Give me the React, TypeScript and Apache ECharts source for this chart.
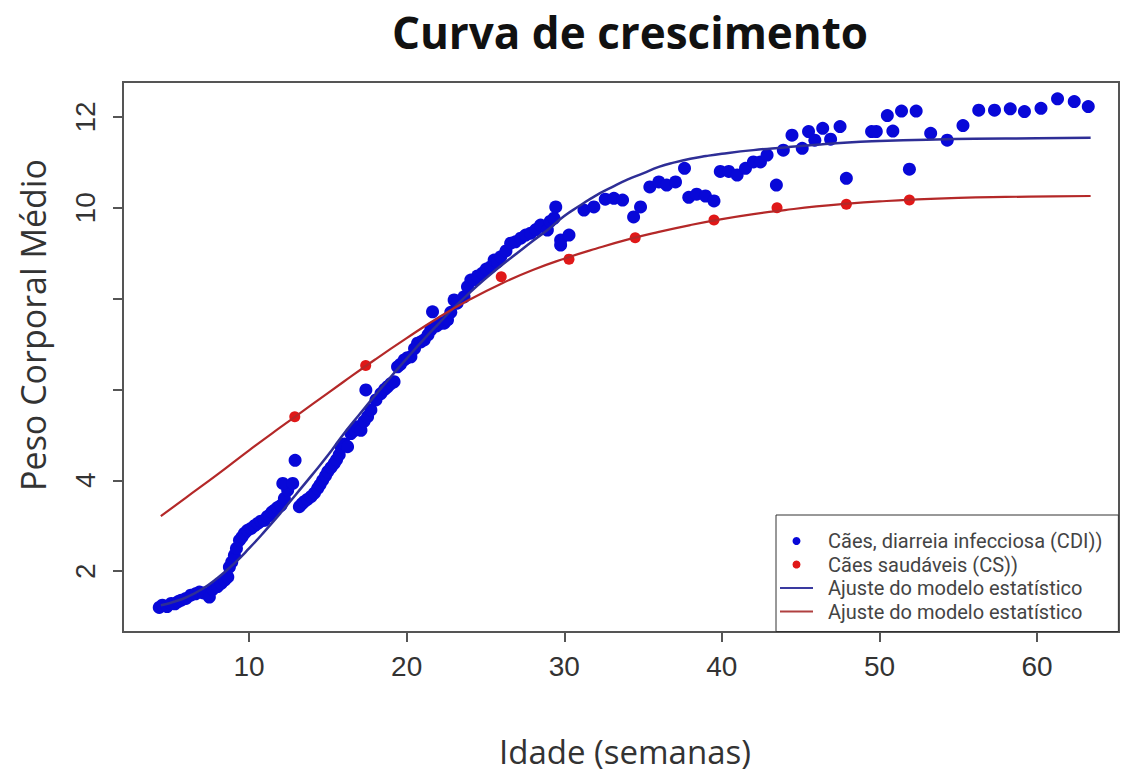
import React, { useEffect, useRef } from "react";
import * as echarts from "echarts";

// Blue scatter: Cães, diarreia infecciosa (CDI) — [idade (semanas), peso médio]
const cdiPoints: number[][] = [
  [4.3, 1.2], [4.5, 1.25], [4.8, 1.22], [5.06, 1.29], [5.3, 1.28], [5.5, 1.33], [5.7, 1.36], [6.0, 1.4],
  [6.3, 1.47], [6.6, 1.5], [6.85, 1.54], [7.1, 1.52], [7.48, 1.43], [7.7, 1.6], [8.0, 1.66], [8.23, 1.73],
  [8.45, 1.8], [8.65, 1.87], [8.75, 2.09], [8.9, 2.2], [9.07, 2.35], [9.2, 2.5], [9.39, 2.68], [9.55, 2.75],
  [9.7, 2.83], [9.9, 2.9], [10.13, 2.94], [10.35, 3.0], [10.55, 3.05], [10.75, 3.1], [10.97, 3.12], [11.15, 3.2],
  [11.29, 3.23], [11.45, 3.3], [11.6, 3.34], [11.8, 3.4], [12.03, 3.45], [12.24, 3.6], [12.45, 3.78], [12.14, 3.93],
  [12.77, 3.93], [12.92, 4.44], [13.19, 3.42], [13.35, 3.48], [13.5, 3.53], [13.7, 3.58], [13.93, 3.64], [14.15, 3.72],
  [14.35, 3.82], [14.5, 3.9], [14.67, 4.0], [14.85, 4.1], [14.99, 4.19], [15.2, 4.28], [15.4, 4.37], [15.55, 4.45],
  [15.72, 4.56], [15.83, 4.74], [16.05, 4.8], [16.25, 4.74], [16.46, 5.03], [16.7, 5.1], [16.89, 5.18], [17.1, 5.1],
  [17.3, 5.3], [17.52, 5.4], [17.73, 5.55], [17.41, 5.99], [18.05, 5.77], [18.37, 5.91], [18.6, 6.0], [18.79, 6.06],
  [19.0, 6.13], [19.2, 6.17], [19.42, 6.5], [19.6, 6.55], [19.84, 6.65], [20.05, 6.7], [20.27, 6.72], [20.5, 6.9],
  [20.69, 7.02], [20.9, 7.05], [21.11, 7.09], [21.35, 7.2], [21.53, 7.31], [21.64, 7.71], [21.9, 7.4], [22.17, 7.46],
  [22.38, 7.46], [22.59, 7.53], [22.8, 7.7], [23.01, 7.97], [23.2, 7.9], [23.64, 8.04], [23.86, 8.26], [24.07, 8.41],
  [24.28, 8.41], [24.5, 8.5], [24.81, 8.56], [25.05, 8.65], [25.34, 8.7], [25.55, 8.85], [25.76, 8.81], [25.97, 8.92],
  [26.3, 9.05], [26.6, 9.22], [26.9, 9.25], [27.24, 9.33], [27.55, 9.4], [27.87, 9.44], [28.2, 9.52], [28.5, 9.62],
  [28.93, 9.51], [29.1, 9.7], [29.35, 9.77], [29.46, 10.02], [29.77, 9.29], [29.77, 9.18], [30.3, 9.4], [31.25, 9.95],
  [31.88, 10.02], [32.6, 10.19], [33.15, 10.21], [33.7, 10.17], [34.4, 9.8], [34.84, 10.02], [35.43, 10.46], [36.0, 10.57],
  [36.5, 10.5], [37.06, 10.57], [37.63, 10.87], [37.9, 10.23], [38.4, 10.3], [38.96, 10.26], [39.5, 10.15], [39.9, 10.8],
  [40.44, 10.8], [40.97, 10.72], [41.5, 10.87], [42.0, 11.01], [42.45, 11.01], [42.87, 11.16], [43.46, 10.5], [43.9, 11.27],
  [44.45, 11.6], [45.1, 11.31], [45.5, 11.68], [45.9, 11.49], [46.4, 11.75], [46.9, 11.51], [47.5, 11.79], [47.9, 10.65],
  [49.5, 11.68], [49.8, 11.68], [50.5, 12.03], [50.85, 11.69], [51.4, 12.13], [52.33, 12.13], [51.9, 10.85], [53.25, 11.64],
  [54.3, 11.49], [55.3, 11.81], [56.3, 12.15], [57.3, 12.15], [58.3, 12.18], [59.2, 12.12], [60.25, 12.19], [61.3, 12.4],
  [62.36, 12.34], [63.25, 12.23],
];

// Red scatter: Cães saudáveis (CS)
const csPoints: number[][] = [
  [12.9, 5.4], [17.4, 6.53], [26.0, 8.48], [30.3, 8.87], [34.5, 9.34], [39.5, 9.73], [43.5, 10.0], [47.9, 10.08], [51.9, 10.17],
];

// Fitted model curves
const fitCdi: number[][] = [
  [4.4, 1.25], [5, 1.3], [6, 1.42], [7, 1.6], [8, 1.85], [9, 2.15], [10, 2.5], [11, 2.88], [12, 3.28], [13, 3.7],
  [14, 4.12], [15, 4.55], [16, 5.02], [17, 5.45], [18, 5.87], [19, 6.28], [20, 6.68], [21, 7.07], [22, 7.44], [23, 7.8],
  [24, 8.13], [25, 8.44], [26, 8.73], [27, 9.0], [28, 9.27], [29, 9.53], [30, 9.82], [31, 10.05], [32, 10.27], [33, 10.45],
  [34, 10.62], [35, 10.76], [36, 10.9], [37, 11.0], [38, 11.08], [39, 11.14], [40, 11.19], [42, 11.27], [44, 11.33],
  [46, 11.39], [48, 11.44], [50, 11.47], [53, 11.5], [56, 11.52], [60, 11.53], [63.4, 11.54],
];
const fitCs: number[][] = [
  [4.4, 3.21], [6, 3.62], [8, 4.13], [10, 4.66], [12, 5.17], [14, 5.67], [16, 6.17], [18, 6.66], [20, 7.13], [22, 7.58],
  [24, 7.98], [26, 8.33], [28, 8.63], [30, 8.88], [32, 9.1], [34, 9.3], [36, 9.47], [38, 9.62], [40, 9.75], [42, 9.86],
  [44, 9.95], [46, 10.03], [48, 10.09], [50, 10.14], [52, 10.18], [55, 10.22], [58, 10.24], [61, 10.25], [63.4, 10.26],
];

const xTicks = [10, 20, 30, 40, 50, 60];
const yTicks = [2, 4, 6, 8, 10, 12];
const yTickLabels = [2, 4, 10, 12];

const titleText = "Curva de crescimento";
const xName = "Idade (semanas)";
const yName = "Peso Corporal Médio";
const legendLabels: Record<string, string> = {
  cdi: "Cães, diarreia infecciosa (CDI))",
  cs: "Cães saudáveis (CS))",
  fitCdi: "Ajuste do modelo estatístico",
  fitCs: "Ajuste do modelo estatístico",
};

const lineIcon = "path://M0,0 L33,0 L33,2 L0,2 Z";

export default function App() {
  const ref = useRef<HTMLDivElement>(null);
  useEffect(() => {
    if (!ref.current) return;
    const chart = echarts.init(ref.current, undefined, { renderer: "svg" });
    const tickFont = "'Liberation Sans', Arial, sans-serif";
    const textFont = "'Open Sans', 'Noto Sans', sans-serif";
    chart.setOption({
      animation: false,
      backgroundColor: "#ffffff",
      grid: {
        left: 123,
        right: 9,
        top: 82,
        bottom: 142,
        show: true,
        borderColor: "#555",
        borderWidth: 2,
        backgroundColor: "transparent",
      },
      xAxis: {
        type: "value",
        min: 2.0,
        max: 65.2,
        axisLine: { show: false },
        splitLine: { show: false },
        axisTick: {
          show: true,
          inside: false,
          length: 10,
          customValues: xTicks,
          lineStyle: { color: "#555", width: 2 },
        },
        axisLabel: {
          customValues: xTicks,
          margin: 20,
          fontSize: 28,
          fontFamily: tickFont,
          color: "#333",
        },
      },
      yAxis: {
        type: "value",
        min: 0.66,
        max: 12.77,
        axisLine: { show: false },
        splitLine: { show: false },
        axisTick: {
          show: true,
          inside: false,
          length: 10,
          customValues: yTicks,
          lineStyle: { color: "#555", width: 2 },
        },
        axisLabel: {
          customValues: yTickLabels,
          rotate: 90,
          margin: 24,
          fontSize: 28,
          fontFamily: tickFont,
          color: "#333",
        },
      },
      legend: {
        orient: "vertical",
        left: 776,
        top: 515,
        padding: [16, 16, 10, 4],
        itemGap: 3.5,
        itemWidth: 33,
        itemHeight: 8,
        backgroundColor: "#fff",
        borderColor: "#333",
        borderWidth: 1,
        borderRadius: 0,
        data: [
          { name: "cdi", icon: "circle" },
          { name: "cs", icon: "circle" },
          { name: "fitCdi", icon: lineIcon },
          { name: "fitCs", icon: lineIcon },
        ],
        formatter: (name: string) => legendLabels[name] || name,
        textStyle: {
          fontSize: 20,
          lineHeight: 20,
          fontFamily: "Roboto, 'Liberation Sans', sans-serif",
          color: "#444",
          padding: [0, 0, 0, 10],
        },
      },
      graphic: [
        {
          type: "text",
          x: 630,
          y: 32,
          style: {
            text: titleText,
            textAlign: "center",
            textVerticalAlign: "middle",
            font: `bold 44px ${textFont}`,
            fill: "#111",
          },
        },
        {
          type: "text",
          x: 625,
          y: 751,
          style: {
            text: xName,
            textAlign: "center",
            textVerticalAlign: "middle",
            font: `33px ${textFont}`,
            fill: "#333",
          },
        },
        {
          type: "text",
          x: 33,
          y: 325,
          rotation: Math.PI / 2,
          style: {
            text: yName,
            textAlign: "center",
            textVerticalAlign: "middle",
            font: `34px ${textFont}`,
            fill: "#333",
          },
        },
      ],
      series: [
        {
          name: "cdi",
          type: "scatter",
          data: cdiPoints,
          symbol: "circle",
          symbolSize: 13,
          itemStyle: { color: "#0808d8", opacity: 1 },
          z: 2,
        },
        {
          name: "cs",
          type: "scatter",
          data: csPoints,
          symbol: "circle",
          symbolSize: 11,
          itemStyle: { color: "#e01818", opacity: 1 },
          z: 3,
        },
        {
          name: "fitCdi",
          type: "line",
          data: fitCdi,
          smooth: true,
          symbol: "none",
          showSymbol: false,
          lineStyle: { color: "#2e2e96", width: 2.5 },
          itemStyle: { color: "#3a3aa0" },
          z: 4,
        },
        {
          name: "fitCs",
          type: "line",
          data: fitCs,
          smooth: true,
          symbol: "none",
          showSymbol: false,
          lineStyle: { color: "#b42828", width: 2.2 },
          itemStyle: { color: "#b04040" },
          z: 4,
        },
      ],
    });
    return () => chart.dispose();
  }, []);
  return (
    <div
      ref={ref}
      style={{ position: "fixed", left: 0, top: 0, width: 1128, height: 774 }}
    />
  );
}
